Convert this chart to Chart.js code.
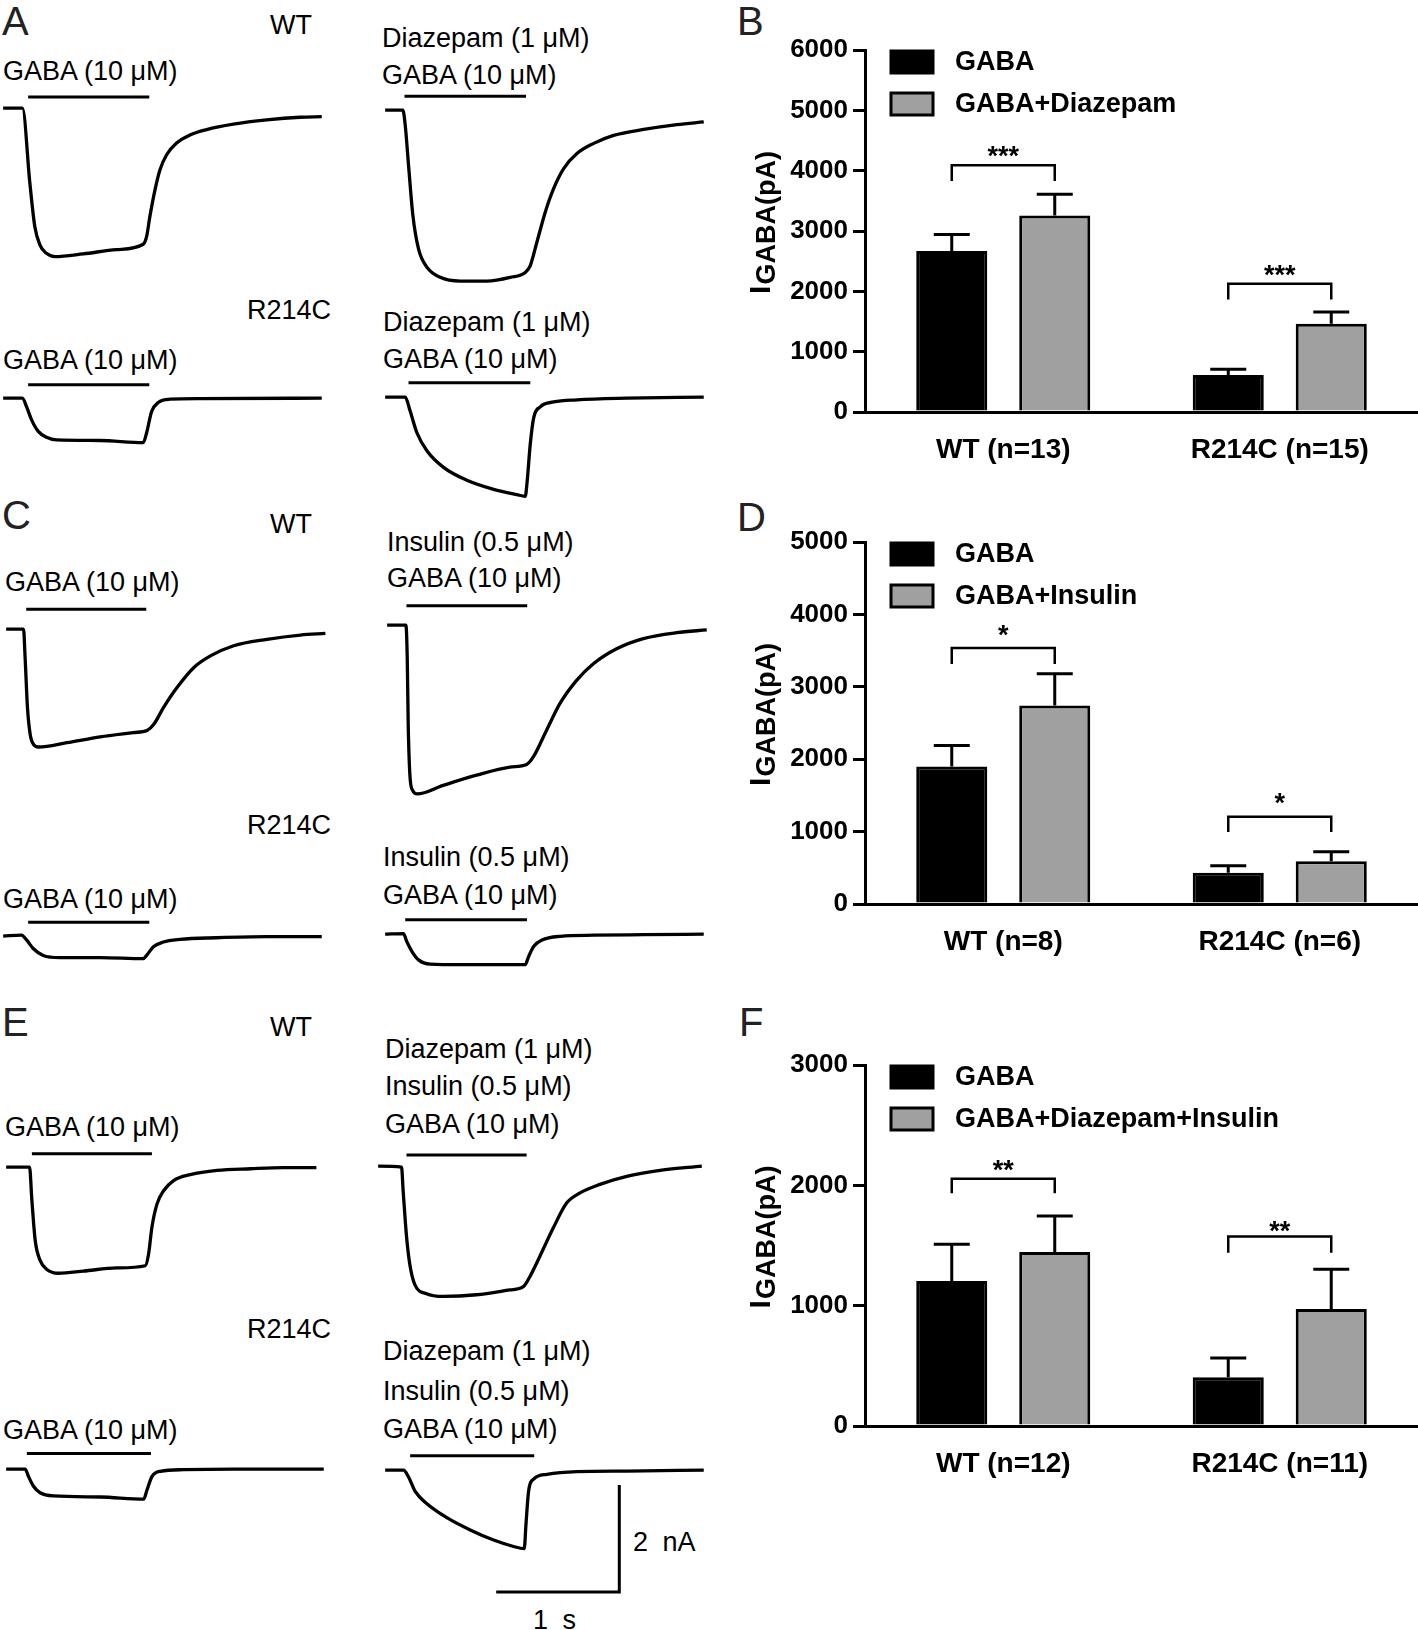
<!DOCTYPE html>
<html>
<head>
<meta charset="utf-8">
<script src="https://cdn.jsdelivr.net/npm/chart.js@4.4.1/dist/chart.umd.min.js"></script>
<style>
  html, body { margin: 0; padding: 0; background: #fff; }
  #page { position: relative; width: 1418px; height: 1630px; overflow: hidden; font-family: "Liberation Sans", Arial, sans-serif; }
  #page canvas { position: absolute; }
  .lbl { position: absolute; white-space: nowrap; line-height: 1; color: #000; font-size: 27px; }
  .letter { font-size: 40px; color: #222; }
</style>
</head>
<body>
<div id="page"></div>
<script>
const FONT = '"Liberation Sans", Arial, sans-serif';

// ---- bar chart data (pA) ----
const B_CATEGORIES = ["WT (n=13)", "R214C (n=15)"];
const B_GABA = [2670, 615];
const B_GABA_SEM = [270, 92];
const B_DRUG = [3255, 1463];
const B_DRUG_SEM = [355, 195];
const B_BRACKET = [4090, 2125];
const B_BRACKET_LEG = [3830, 1865];
const B_STARS = ["***", "***"];
const B_STAR_Y = [4350, 2370];

const D_CATEGORIES = ["WT (n=8)", "R214C (n=6)"];
const D_GABA = [1900, 430];
const D_GABA_SEM = [290, 100];
const D_DRUG = [2740, 590];
const D_DRUG_SEM = [440, 130];
const D_BRACKET = [3536, 1205];
const D_BRACKET_LEG = [3315, 993];
const D_STARS = ["*", "*"];
const D_STAR_Y = [3810, 1477];

const F_CATEGORIES = ["WT (n=12)", "R214C (n=11)"];
const F_GABA = [1205, 405];
const F_GABA_SEM = [305, 160];
const F_DRUG = [1445, 972];
const F_DRUG_SEM = [300, 330];
const F_BRACKET = [2054, 1575];
const F_BRACKET_LEG = [1935, 1439];
const F_STARS = ["**", "**"];
const F_STAR_Y = [2184, 1674];

// ---- current traces: [time (s), current (nA)] ----
const A_WT = [[0,0],[0.157,0],[0.217,-1.40],[0.257,-2.21],[0.298,-2.55],[0.352,-2.71],[0.420,-2.77],[0.650,-2.72],[0.921,-2.64],[1.138,-2.54],[1.165,-2.40],[1.192,-2.02],[1.233,-1.53],[1.274,-1.15],[1.328,-0.87],[1.409,-0.65],[1.518,-0.50],[1.653,-0.40],[1.870,-0.30],[2.141,-0.22],[2.412,-0.17],[2.588,-0.16]];
const A_DZ = [[0,0],[0.144,0],[0.163,-0.28],[0.190,-1.03],[0.225,-1.96],[0.271,-2.59],[0.339,-2.93],[0.447,-3.12],[0.610,-3.19],[0.827,-3.19],[1.016,-3.12],[1.138,-3.03],[1.179,-2.90],[1.233,-2.46],[1.301,-1.90],[1.369,-1.46],[1.450,-1.09],[1.558,-0.81],[1.694,-0.62],[1.856,-0.47],[2.100,-0.36],[2.371,-0.27],[2.588,-0.22]];
const A_R = [[0,0],[0.157,0],[0.190,-0.16],[0.230,-0.40],[0.285,-0.62],[0.352,-0.73],[0.434,-0.78],[0.786,-0.79],[1.138,-0.83],[1.165,-0.65],[1.206,-0.25],[1.260,-0.08],[1.355,-0.02],[1.599,-0.01],[2.588,0]];
const A_RDZ = [[0,0],[0.163,0],[0.203,-0.26],[0.257,-0.66],[0.339,-1.00],[0.474,-1.31],[0.664,-1.55],[0.881,-1.72],[1.070,-1.82],[1.138,-1.85],[1.152,-1.61],[1.179,-0.87],[1.206,-0.39],[1.260,-0.18],[1.369,-0.09],[1.558,-0.05],[1.965,-0.02],[2.588,0]];
const C_WT = [[0,0],[0.141,0],[0.154,-0.53],[0.173,-1.46],[0.195,-1.96],[0.222,-2.15],[0.263,-2.20],[0.493,-2.12],[0.764,-2.01],[1.035,-1.93],[1.144,-1.89],[1.198,-1.78],[1.279,-1.46],[1.388,-1.09],[1.523,-0.72],[1.659,-0.50],[1.848,-0.31],[2.119,-0.19],[2.390,-0.11],[2.593,-0.08]];
const C_IN = [[0,0],[0.152,0],[0.163,-0.59],[0.171,-1.84],[0.184,-2.77],[0.206,-3.08],[0.244,-3.15],[0.455,-2.99],[0.726,-2.80],[0.997,-2.65],[1.133,-2.60],[1.187,-2.46],[1.295,-1.96],[1.404,-1.46],[1.539,-1.03],[1.675,-0.72],[1.864,-0.44],[2.081,-0.25],[2.352,-0.14],[2.596,-0.09]];
const C_R = [[0,0],[0.149,0.02],[0.190,-0.07],[0.244,-0.23],[0.325,-0.36],[0.461,-0.40],[0.786,-0.40],[1.138,-0.42],[1.165,-0.36],[1.220,-0.20],[1.301,-0.11],[1.436,-0.06],[1.734,-0.03],[2.141,-0.01],[2.588,-0.01]];
const C_RIN = [[0,0],[0.149,0.01],[0.176,-0.14],[0.217,-0.32],[0.271,-0.48],[0.366,-0.56],[0.610,-0.57],[1.138,-0.57],[1.165,-0.42],[1.206,-0.23],[1.274,-0.11],[1.423,-0.04],[1.694,-0.02],[2.100,-0.01],[2.588,0]];
const E_WT = [[0,0],[0.190,0],[0.209,-0.62],[0.236,-1.37],[0.276,-1.74],[0.331,-1.91],[0.425,-1.98],[0.629,-1.94],[0.900,-1.88],[1.130,-1.84],[1.157,-1.62],[1.184,-1.12],[1.225,-0.69],[1.279,-0.44],[1.360,-0.25],[1.496,-0.14],[1.713,-0.06],[1.984,-0.03],[2.255,-0.01],[2.520,-0.01]];
const E_DI = [[0,0],[0.190,-0.02],[0.203,-0.46],[0.230,-1.30],[0.257,-1.83],[0.298,-2.21],[0.393,-2.38],[0.528,-2.43],[0.799,-2.40],[1.070,-2.31],[1.179,-2.25],[1.233,-2.06],[1.314,-1.68],[1.423,-1.15],[1.531,-0.69],[1.640,-0.50],[1.802,-0.34],[2.019,-0.19],[2.290,-0.08],[2.629,0]];
const E_R = [[0,0],[0.154,0],[0.182,-0.14],[0.222,-0.32],[0.276,-0.44],[0.385,-0.50],[0.764,-0.52],[1.117,-0.56],[1.144,-0.39],[1.184,-0.14],[1.252,-0.04],[1.442,-0.01],[1.848,0],[2.580,0]];
const E_RDI = [[0,0],[0.149,0],[0.190,-0.13],[0.244,-0.40],[0.339,-0.63],[0.501,-0.89],[0.691,-1.12],[0.881,-1.31],[1.043,-1.43],[1.130,-1.47],[1.144,-1.01],[1.165,-0.40],[1.206,-0.17],[1.314,-0.08],[1.558,-0.03],[1.965,-0.02],[2.588,0]];

// drug application windows (s)
const APP_A_WT = [0.203, 1.187];
const APP_A_DZ = [0.157, 1.144];
const APP_A_R = [0.203, 1.187];
const APP_A_RDZ = [0.190, 1.179];
const APP_C_WT = [0.163, 1.138];
const APP_C_IN = [0.157, 1.138];
const APP_C_R = [0.203, 1.187];
const APP_C_RIN = [0.163, 1.152];
const APP_E_WT = [0.209, 1.184];
const APP_E_DI = [0.230, 1.206];
const APP_E_R = [0.168, 1.176];
const APP_E_RDI = [0.203, 1.211];

// scale bar: 1 s, 2 nA
const SCALE_S = 1;
const SCALE_NA = 2;

// ---- layout ----
const PX_PER_S = 123;
const PX_PER_NA = 53.5;
const page = document.getElementById("page");

const TRACES = [
  { trace: A_WT, app: APP_A_WT, x0: 3, base: 108, bar: 0.21 },
  { trace: A_DZ, app: APP_A_DZ, x0: 385, base: 110, bar: 0.26 },
  { trace: A_R, app: APP_A_R, x0: 3, base: 398, bar: 0.25 },
  { trace: A_RDZ, app: APP_A_RDZ, x0: 385, base: 397, bar: 0.27 },
  { trace: C_WT, app: APP_C_WT, x0: 6, base: 629, bar: 0.37 },
  { trace: C_IN, app: APP_C_IN, x0: 387, base: 625, bar: 0.36 },
  { trace: C_R, app: APP_C_R, x0: 3, base: 936, bar: 0.26 },
  { trace: C_RIN, app: APP_C_RIN, x0: 385, base: 934, bar: 0.27 },
  { trace: E_WT, app: APP_E_WT, x0: 6, base: 1167, bar: 0.25 },
  { trace: E_DI, app: APP_E_DI, x0: 378, base: 1166, bar: 0.21 },
  { trace: E_R, app: APP_E_R, x0: 6, base: 1469, bar: 0.29 },
  { trace: E_RDI, app: APP_E_RDI, x0: 385, base: 1470, bar: 0.27, scaleAt: [1.902, -2.28] },
];

const LABELS = [
  ["A", 2, 21, "letter"], ["WT", 270, 25], ["GABA (10 μM)", 3, 71], ["R214C", 247, 310], ["GABA (10 μM)", 3, 360],
  ["Diazepam (1 μM)", 382, 38], ["GABA (10 μM)", 382, 75], ["Diazepam (1 μM)", 383, 322], ["GABA (10 μM)", 383, 359],
  ["C", 2, 515, "letter"], ["WT", 270, 524], ["GABA (10 μM)", 5, 582], ["R214C", 247, 825], ["GABA (10 μM)", 3, 899],
  ["Insulin (0.5 μM)", 387, 542], ["GABA (10 μM)", 387, 578], ["Insulin (0.5 μM)", 383, 857], ["GABA (10 μM)", 383, 895],
  ["E", 2, 1022, "letter"], ["WT", 270, 1027], ["GABA (10 μM)", 5, 1127], ["R214C", 247, 1329], ["GABA (10 μM)", 3, 1430],
  ["Diazepam (1 μM)", 385, 1049], ["Insulin (0.5 μM)", 385, 1086], ["GABA (10 μM)", 385, 1124],
  ["Diazepam (1 μM)", 383, 1351], ["Insulin (0.5 μM)", 383, 1391], ["GABA (10 μM)", 383, 1429],
  ["2 nA", 633, 1542], ["1 s", 533, 1620],
  ["B", 737, 21, "letter"], ["D", 737, 517, "letter"], ["F", 739, 1022, "letter"],
];

LABELS.forEach(([text, x, cy, cls]) => {
  const d = document.createElement("div");
  d.className = "lbl" + (cls ? " " + cls : "");
  const fs = cls === "letter" ? 40 : 27;
  d.style.left = x + "px";
  d.style.top = (cy - 0.49 * fs) + "px";
  if (text === "2 nA" || text === "1 s") d.style.wordSpacing = "7px";
  d.textContent = text;
  page.appendChild(d);
});

function makeTrace(t) {
  const xMin = -0.05, xMax = 2.72, yMax = 0.6;
  const yMin = t.scaleAt ? -2.45 : -3.45;
  const c = document.createElement("canvas");
  c.width = Math.round((xMax - xMin) * PX_PER_S);
  c.height = Math.round((yMax - yMin) * PX_PER_NA);
  c.style.left = (t.x0 + xMin * PX_PER_S) + "px";
  c.style.top = (t.base - yMax * PX_PER_NA) + "px";
  page.appendChild(c);

  const line = { borderColor: "#000", borderWidth: 3.3, pointRadius: 0, fill: false };
  const datasets = [
    { ...line, data: t.trace.map(([x, y]) => ({ x, y })), cubicInterpolationMode: "monotone" },
    { ...line, borderWidth: 3, data: t.app.map((x) => ({ x, y: t.bar })) },
  ];
  if (t.scaleAt) {
    const [sx, sy] = t.scaleAt;
    datasets.push({ ...line, borderWidth: 3, data: [{ x: sx - SCALE_S, y: sy }, { x: sx, y: sy }, { x: sx, y: sy + SCALE_NA }] });
  }

  new Chart(c, {
    type: "line",
    data: { datasets },
    options: {
      responsive: false,
      animation: false,
      events: [],
      layout: { padding: 0 },
      plugins: { legend: { display: false }, tooltip: { enabled: false } },
      scales: {
        x: { type: "linear", min: xMin, max: xMax, display: false },
        y: { min: yMin, max: yMax, display: false },
      },
    },
  });
}

TRACES.forEach(makeTrace);

// error bars drawn on top of each bar (upper arm only)
const errorBars = {
  id: "errorBars",
  afterDatasetsDraw(chart) {
    const { ctx } = chart;
    const y = chart.scales.y;
    chart.data.datasets.forEach((ds, i) => {
      chart.getDatasetMeta(i).data.forEach((bar, j) => {
        const top = y.getPixelForValue(ds.data[j] + ds.sem[j]);
        ctx.save();
        ctx.strokeStyle = "#000";
        ctx.lineWidth = 3;
        ctx.beginPath();
        ctx.moveTo(bar.x, bar.y);
        ctx.lineTo(bar.x, top);
        ctx.moveTo(bar.x - 18, top);
        ctx.lineTo(bar.x + 18, top);
        ctx.stroke();
        ctx.restore();
      });
    });
  },
};

// significance brackets and stars
const brackets = {
  id: "brackets",
  afterDatasetsDraw(chart, args, opts) {
    const { ctx } = chart;
    const y = chart.scales.y;
    const m0 = chart.getDatasetMeta(0).data;
    const m1 = chart.getDatasetMeta(1).data;
    opts.top.forEach((v, j) => {
      const x1 = m0[j].x, x2 = m1[j].x;
      const yt = y.getPixelForValue(v);
      const yl = y.getPixelForValue(opts.leg[j]);
      ctx.save();
      ctx.strokeStyle = "#000";
      ctx.lineWidth = 2.5;
      ctx.beginPath();
      ctx.moveTo(x1, yl);
      ctx.lineTo(x1, yt);
      ctx.lineTo(x2, yt);
      ctx.lineTo(x2, yl);
      ctx.stroke();
      ctx.fillStyle = "#000";
      ctx.font = "bold 27px " + FONT;
      ctx.textAlign = "center";
      ctx.textBaseline = "alphabetic";
      ctx.fillText(opts.stars[j], (x1 + x2) / 2, y.getPixelForValue(opts.starY[j]) + 0.57 * 27);
      ctx.restore();
    });
  },
};

// legend boxes inside the plot area, top-left
const boxLegend = {
  id: "boxLegend",
  afterDraw(chart) {
    const { ctx, chartArea } = chart;
    chart.data.datasets.forEach((ds, i) => {
      const bx = chartArea.left + 26;
      const by = chartArea.top + 1 + i * 42;
      ctx.save();
      ctx.fillStyle = ds.backgroundColor;
      ctx.fillRect(bx, by, 42, 22);
      ctx.strokeStyle = "#000";
      ctx.lineWidth = 3;
      ctx.strokeRect(bx, by, 42, 22);
      ctx.fillStyle = "#000";
      ctx.font = "bold 27px " + FONT;
      ctx.textBaseline = "middle";
      ctx.fillText(ds.label, chartArea.left + 90, by + 12);
      ctx.restore();
    });
  },
};

// rotated y title: I with GABA(pA) as subscript
const yTitle = {
  id: "yTitle",
  afterDraw(chart) {
    const { ctx, chartArea } = chart;
    const cy = (chartArea.top + chartArea.bottom) / 2 - 8;
    ctx.save();
    ctx.translate(60, cy);
    ctx.rotate(-Math.PI / 2);
    ctx.fillStyle = "#000";
    ctx.textBaseline = "alphabetic";
    ctx.font = "bold 30px " + FONT;
    const wI = ctx.measureText("I").width;
    ctx.font = "bold 27px " + FONT;
    const wS = ctx.measureText("GABA(pA)").width;
    const x0 = -(wI + wS) / 2;
    ctx.font = "bold 30px " + FONT;
    ctx.fillText("I", x0, 10);
    ctx.font = "bold 27px " + FONT;
    ctx.fillText("GABA(pA)", x0 + wI + 1, 15);
    ctx.restore();
  },
};

function makeBars(p) {
  const H = 510;
  const c = document.createElement("canvas");
  c.width = 718;
  c.height = H;
  c.style.left = "700px";
  c.style.top = p.top + "px";
  page.appendChild(c);

  new Chart(c, {
    type: "bar",
    data: {
      labels: p.categories,
      datasets: [
        { label: "GABA", data: p.gaba, sem: p.gabaSem, backgroundColor: "#000", borderColor: "#000", borderWidth: 3 },
        { label: p.drugLabel, data: p.drug, sem: p.drugSem, backgroundColor: "#a0a0a0", borderColor: "#000", borderWidth: 3 },
      ],
    },
    options: {
      responsive: false,
      animation: false,
      events: [],
      layout: { padding: { top: p.axisTop - p.top, right: 0, bottom: 0, left: 0 } },
      datasets: { bar: { categoryPercentage: 0.745, barPercentage: 0.69 } },
      plugins: {
        legend: { display: false },
        tooltip: { enabled: false },
        brackets: { top: p.bracket, leg: p.bracketLeg, stars: p.stars, starY: p.starY },
      },
      scales: {
        x: {
          grid: { display: false },
          border: { display: true, color: "#000", width: 3 },
          ticks: { color: "#000", font: { family: FONT, weight: "bold", size: 28 }, padding: 13 },
          afterFit: (s) => { s.height = p.top + H - p.axisBottom; },
        },
        y: {
          min: 0,
          max: p.max,
          ticks: { stepSize: 1000, color: "#000", font: { family: FONT, weight: "bold", size: 26 }, padding: 5, callback: (v) => String(v) },
          grid: { drawOnChartArea: false, drawTicks: true, tickLength: 12, color: "#000", lineWidth: 3 },
          border: { display: true, color: "#000", width: 3 },
          afterFit: (s) => { s.width = 165; },
        },
      },
    },
    plugins: [errorBars, brackets, boxLegend, yTitle],
  });
}

makeBars({
  top: 0, axisTop: 50, axisBottom: 412, max: 6000,
  categories: B_CATEGORIES, gaba: B_GABA, gabaSem: B_GABA_SEM, drug: B_DRUG, drugSem: B_DRUG_SEM,
  drugLabel: "GABA+Diazepam", bracket: B_BRACKET, bracketLeg: B_BRACKET_LEG, stars: B_STARS, starY: B_STAR_Y,
});
makeBars({
  top: 490, axisTop: 542, axisBottom: 904, max: 5000,
  categories: D_CATEGORIES, gaba: D_GABA, gabaSem: D_GABA_SEM, drug: D_DRUG, drugSem: D_DRUG_SEM,
  drugLabel: "GABA+Insulin", bracket: D_BRACKET, bracketLeg: D_BRACKET_LEG, stars: D_STARS, starY: D_STAR_Y,
});
makeBars({
  top: 1000, axisTop: 1065, axisBottom: 1426, max: 3000,
  categories: F_CATEGORIES, gaba: F_GABA, gabaSem: F_GABA_SEM, drug: F_DRUG, drugSem: F_DRUG_SEM,
  drugLabel: "GABA+Diazepam+Insulin", bracket: F_BRACKET, bracketLeg: F_BRACKET_LEG, stars: F_STARS, starY: F_STAR_Y,
});
</script>
</body>
</html>
